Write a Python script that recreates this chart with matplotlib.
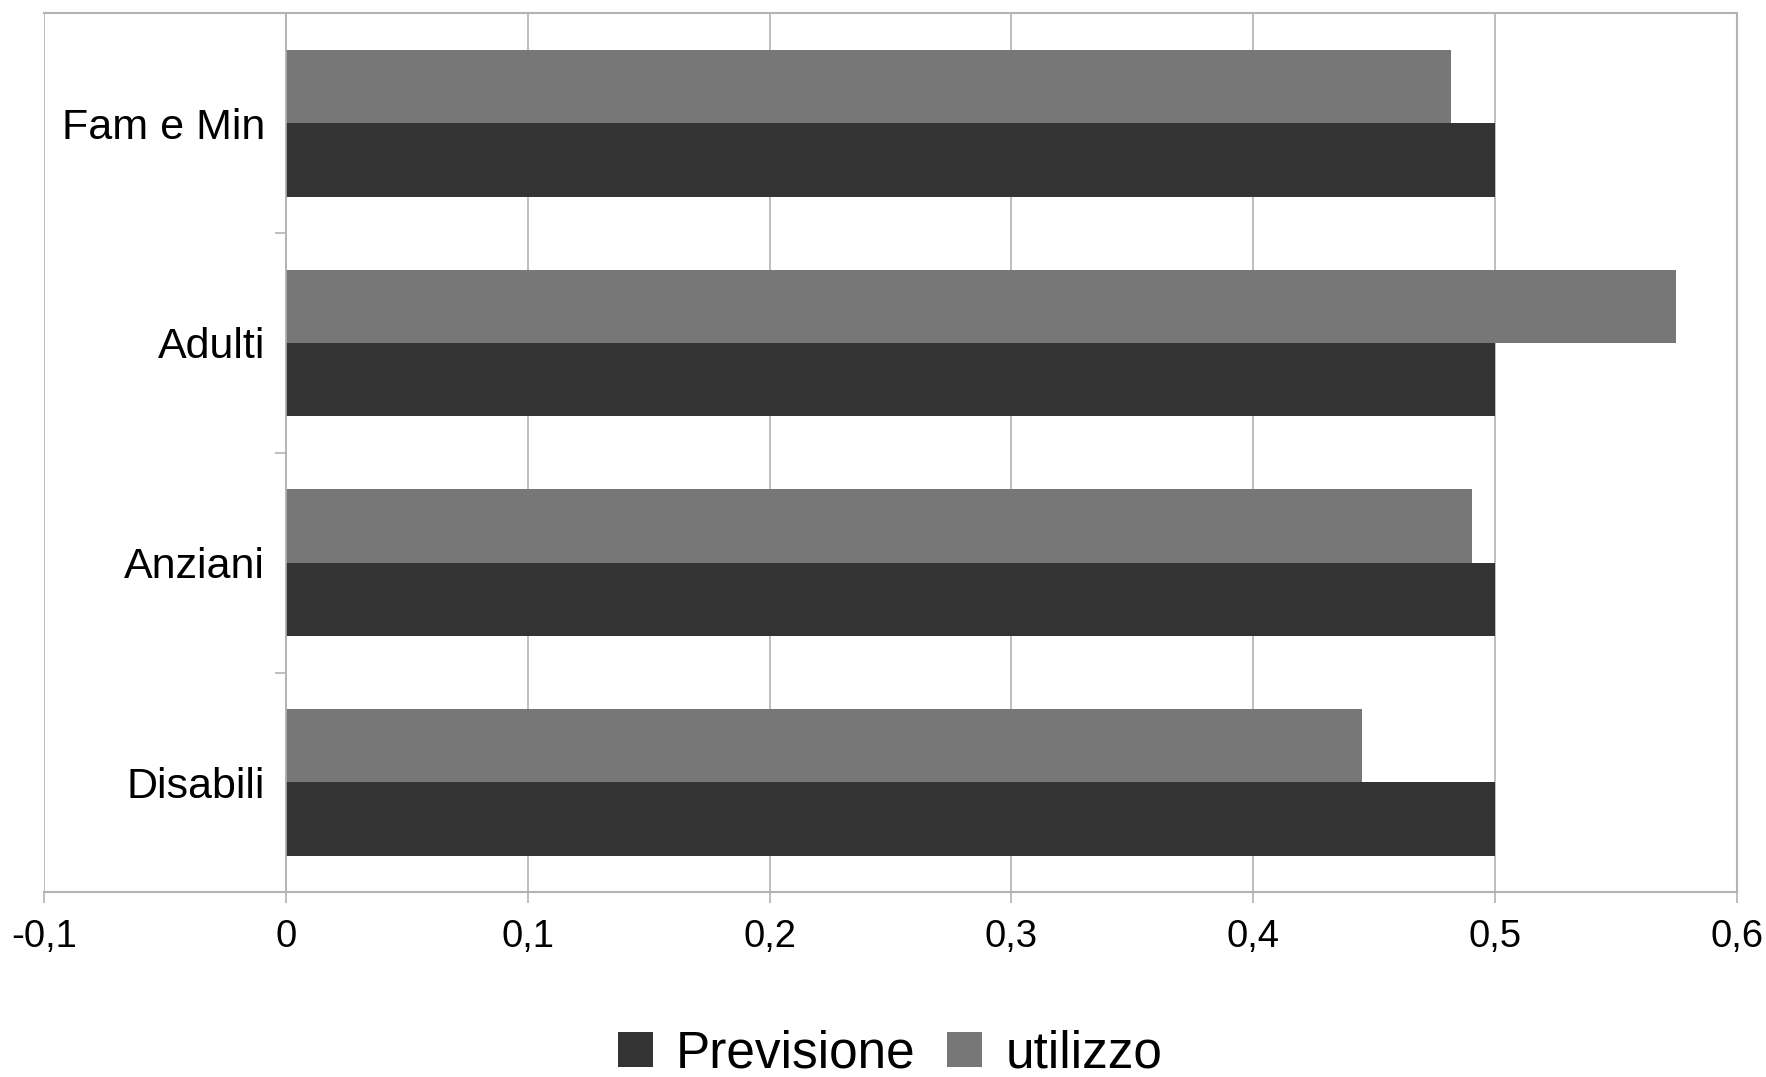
import matplotlib
matplotlib.use("Agg")
import matplotlib.pyplot as plt
import numpy as np
from matplotlib.patches import Patch

plt.rcParams['font.family'] = ['Liberation Sans', 'DejaVu Sans']

categories = ["Fam e Min", "Adulti", "Anziani", "Disabili"]
previsione = [0.5, 0.5, 0.5, 0.5]
utilizzo = [0.482, 0.575, 0.4905, 0.445]
xticks = [-0.1, 0, 0.1, 0.2, 0.3, 0.4, 0.5, 0.6]
xticklabels = ["-0,1", "0", "0,1", "0,2", "0,3", "0,4", "0,5", "0,6"]

c_prev = "#333333"
c_util = "#777777"
grid_c = "#b3b3b3"

W, H = 1766, 1077
fig = plt.figure(figsize=(W / 100, H / 100), dpi=100)
left, right, top, bottom = 44.3, 1736.7, 13.3, 892.3
ax = fig.add_axes([left / W, 1 - bottom / H, (right - left) / W, (bottom - top) / H])

y = np.arange(len(categories))
h = 0.334
ax.barh(y - h / 2, utilizzo, height=h, color=c_util, zorder=3)
ax.barh(y + h / 2, previsione, height=h, color=c_prev, zorder=3)

ax.set_xlim(-0.1, 0.6)
ax.set_ylim(len(categories) - 0.5, -0.5)

ax.set_xticks(xticks)
ax.set_xticklabels(xticklabels, fontsize=27.5)
ax.tick_params(axis='x', length=8, width=1.2, color=grid_c, pad=11)
ax.grid(axis='x', color=grid_c, linewidth=1.2, zorder=0)

ax.spines['left'].set_position(('data', 0))
ax.spines['left'].set_color(grid_c)
ax.spines['left'].set_linewidth(1.2)
ax.spines['left'].set_zorder(4)
for s in ['top', 'right', 'bottom']:
    ax.spines[s].set_color(grid_c)
    ax.spines[s].set_linewidth(1.5)

ax.set_yticks(y)
ax.set_yticklabels(categories, fontsize=31)
ax.set_yticks(np.arange(0.5, len(categories) - 0.5, 1.0), minor=True)
ax.tick_params(axis='y', which='major', length=0, pad=15)
ax.tick_params(axis='y', which='minor', length=8, width=1.2, color=grid_c)

handles = [Patch(facecolor=c_prev, label="Previsione"),
           Patch(facecolor=c_util, label="utilizzo")]
fig.legend(handles=handles, loc='center', bbox_to_anchor=(0.504, 1 - 1054 / H),
           ncol=2, frameon=False, fontsize=37, handlelength=0.68,
           handleheight=0.66, handletextpad=0.45, columnspacing=0.62,
           borderpad=0)

fig.savefig("out.png", dpi=100, facecolor='white')
